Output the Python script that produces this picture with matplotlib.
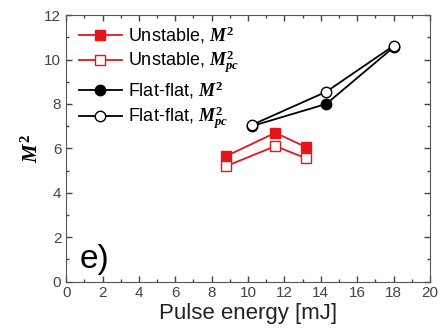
import matplotlib
matplotlib.use('Agg')
import matplotlib.pyplot as plt
from matplotlib.ticker import MultipleLocator

plt.rcParams['font.family'] = 'Liberation Sans'
plt.rcParams['mathtext.fontset'] = 'custom'
plt.rcParams['mathtext.it'] = 'Liberation Serif:italic:bold'
plt.rcParams['mathtext.rm'] = 'Liberation Serif:bold'

# data
unstable_x = [8.8, 11.5, 13.2]
unstable_m2 = [5.65, 6.7, 6.05]
unstable_mpc = [5.2, 6.1, 5.55]
flat_x = [10.2, 14.3, 18.0]
flat_m2 = [7.0, 8.0, 10.55]
flat_mpc = [7.05, 8.55, 10.62]

fig = plt.figure(figsize=(4.41, 3.36), dpi=100)
ax = fig.add_axes([0.150, 0.162, 0.825, 0.793])

red = '#e8141c'
ax.plot(unstable_x, unstable_m2, '-s', color=red, mfc=red, mec=red, ms=7, lw=1.3,
        label=r'Unstable, $M^2$')
ax.plot(unstable_x, unstable_mpc, '-s', color=red, mfc='white', mec=red, ms=7, lw=1.3,
        label=r'Unstable, $M^2_{pc}$')
ax.plot(flat_x, flat_m2, '-o', color='black', mfc='black', mec='black', ms=7.5, lw=1.3,
        label=r'Flat-flat, $M^2$')
ax.plot(flat_x, flat_mpc, '-o', color='black', mfc='white', mec='black', ms=7.5, lw=1.3,
        label=r'Flat-flat, $M^2_{pc}$')

ax.set_xlim(0, 20)
ax.set_ylim(0, 12)
ax.xaxis.set_major_locator(MultipleLocator(2))
ax.xaxis.set_minor_locator(MultipleLocator(1))
ax.yaxis.set_major_locator(MultipleLocator(2))
ax.yaxis.set_minor_locator(MultipleLocator(1))
ax.tick_params(which='both', direction='in', top=True, right=True, colors='#444444',
               labelsize=11, width=1)
ax.tick_params(which='major', length=4)
ax.tick_params(which='minor', length=2)
for s in ax.spines.values():
    s.set_color('#555555')

ax.set_xlabel('Pulse energy [mJ]', fontsize=16, color='#222222', labelpad=2)
ax.set_ylabel(r'$M^2$', fontsize=15, labelpad=2)

ax.text(0.038, 0.05, 'e)', transform=ax.transAxes, fontsize=24)

ax.legend(loc='upper left', frameon=False, fontsize=13, handlelength=2.4,
          handletextpad=0.3, labelspacing=0.2, borderaxespad=0.1,
          bbox_to_anchor=(0.01, 1.0))

fig.savefig('out.png', dpi=100)
